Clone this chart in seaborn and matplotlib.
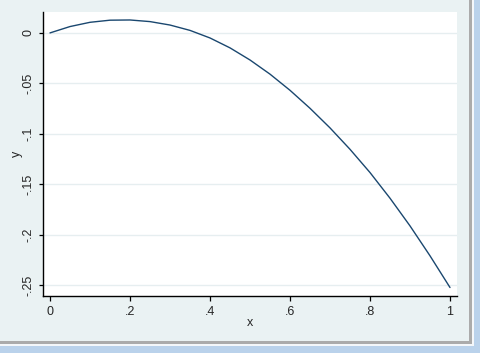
import matplotlib
matplotlib.use("Agg")
import matplotlib.pyplot as plt
from matplotlib.patches import Rectangle
import seaborn as sns
import pandas as pd

x_vals = [0.0, 0.05, 0.1, 0.15, 0.2, 0.25, 0.3, 0.35, 0.4, 0.45, 0.5,
          0.55, 0.6, 0.65, 0.7, 0.75, 0.8, 0.85, 0.9, 0.95, 1.0]
y_vals = [0.0, 0.0063, 0.0105, 0.0126, 0.0128, 0.0112, 0.0078, 0.0025, -0.0050,
          -0.0148, -0.0268, -0.0408, -0.0568, -0.0746, -0.0940, -0.1152,
          -0.1382, -0.1636, -0.1910, -0.2206, -0.2520]
x_ticks = [0, 0.2, 0.4, 0.6, 0.8, 1.0]
x_ticklabels = ["0", ".2", ".4", ".6", ".8", "1"]
y_ticks = [0, -0.05, -0.1, -0.15, -0.2, -0.25]
y_ticklabels = ["0", "-.05", "-.1", "-.15", "-.2", "-.25"]

df = pd.DataFrame({"x": x_vals, "y": y_vals})

sns.set_style("white")
plt.rcParams["font.family"] = ["Liberation Sans", "DejaVu Sans"]

BG = "#EAF2F3"
W, H = 480, 353
fig = plt.figure(figsize=(4.8, 3.53), dpi=100, facecolor=BG)

def px(x0, y0, x1, y1):
    return (x0 / W, 1 - y1 / H, (x1 - x0) / W, (y1 - y0) / H)

ax = fig.add_axes(px(43, 12, 457, 296))
ax.set_facecolor("white")

for yt in y_ticks:
    ax.axhline(yt, color="#E6EEF0", lw=1.0, zorder=0)

sns.lineplot(data=df, x="x", y="y", ax=ax, color="#1A476F", lw=1.0, zorder=3)

ax.set_xlim(-0.0175, 1.0175)
ax.set_ylim(-0.2604, 0.0207)
ax.set_xticks(x_ticks)
ax.set_xticklabels(x_ticklabels)
ax.set_yticks(y_ticks)
ax.set_yticklabels(y_ticklabels, rotation=90, va="center")
ax.tick_params(axis="both", direction="out", width=0.9, color="black",
               labelsize=9, left=True, bottom=True)
ax.tick_params(axis="y", length=3.0, pad=3)
ax.tick_params(axis="x", length=3.6, pad=3.5)
for s in ["top", "right"]:
    ax.spines[s].set_visible(False)
for s in ["left", "bottom"]:
    ax.spines[s].set_color("black")
    ax.spines[s].set_linewidth(1.0)
ax.set_xlabel("x", fontsize=9, labelpad=-0.5)
ax.set_ylabel("y", fontsize=9, labelpad=0)

# window frame
fig.patches.append(Rectangle((469 / W, 0), 3 / W, 1, transform=fig.transFigure,
                             facecolor="#ABABAB", edgecolor="none"))
fig.patches.append(Rectangle((472 / W, 0), 2 / W, 1, transform=fig.transFigure,
                             facecolor="#F4F7FA", edgecolor="none"))
fig.patches.append(Rectangle((474 / W, 0), 6 / W, 1, transform=fig.transFigure,
                             facecolor="#BAD2EB", edgecolor="none"))
fig.patches.append(Rectangle((0, 1 - 344 / H), 472 / W, 3 / H, transform=fig.transFigure,
                             facecolor="#ABABAB", edgecolor="none"))
fig.patches.append(Rectangle((0, 1 - 346 / H), 474 / W, 2 / H, transform=fig.transFigure,
                             facecolor="#F4F7FA", edgecolor="none"))
fig.patches.append(Rectangle((0, 0), 1, 7 / H, transform=fig.transFigure,
                             facecolor="#BAD2EB", edgecolor="none"))

fig.savefig("out.png", dpi=100, facecolor=BG)
